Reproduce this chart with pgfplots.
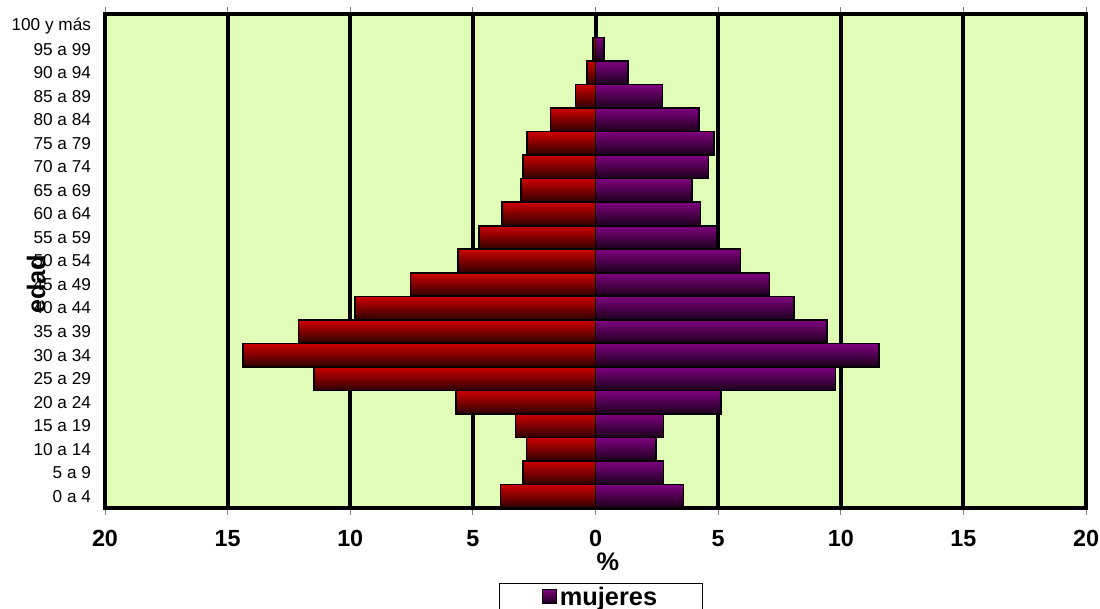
\documentclass[border=0pt]{standalone}
\usepackage{fontspec}
\setmainfont{Liberation Sans}
\usepackage{pgfplots}
\pgfplotsset{compat=1.18}
\definecolor{bgg}{RGB}{225,252,183}
\definecolor{redtop}{RGB}{206,0,0}
\definecolor{redmid}{RGB}{185,0,0}
\definecolor{redbot}{RGB}{45,0,0}
\definecolor{purtop}{RGB}{128,0,128}
\definecolor{purmid}{RGB}{112,0,112}
\definecolor{purbot}{RGB}{25,0,25}
\pgfplotsset{
  mb/.style={xbar, bar width=17.6pt, bar shift=0pt, draw=black, line width=1.2pt,
    top color=redtop, middle color=redmid, bottom color=redbot, forget plot},
  wb/.style={xbar, bar width=17.6pt, bar shift=0pt, draw=black, line width=1.2pt,
    top color=purtop, middle color=purmid, bottom color=purbot, forget plot},
}
\begin{document}
\begin{tikzpicture}
\begin{axis}[
  name=ax,
  scale only axis,
  width=735.75pt, height=370.5pt,
  xmin=-20, xmax=20, ymin=-0.5, ymax=20.5,
  axis background/.style={fill=bgg},
  axis line style={line width=3pt, black},
  xtick={-20,-15,-10,-5,0,5,10,15,20},
  xticklabels={20,15,10,5,0,5,10,15,20},
  xtick align=outside,
  x tick style={gray, line width=0.6pt},
  major tick length=5pt,
  xmajorgrids,
  major grid style={line width=3pt, black},
  xticklabel style={font=\fontsize{17.5}{20}\selectfont\bfseries, yshift=-8.5pt},
  ytick={0,...,20},
  yticklabels={0 a 4,5 a 9,10 a 14,15 a 19,20 a 24,25 a 29,30 a 34,35 a 39,40 a 44,45 a 49,50 a 54,55 a 59,60 a 64,65 a 69,70 a 74,75 a 79,80 a 84,85 a 89,90 a 94,95 a 99,100 y más},
  y tick style={draw=none},
  yticklabel style={font=\fontsize{12.9}{15}\selectfont, xshift=-7pt},
  xlabel={\%},
  xlabel style={at={(axis description cs:0.5127,-0.109)}, anchor=center, font=\fontsize{19}{22}\selectfont\bfseries},
  ylabel={edad},
  ylabel style={at={(axis description cs:-0.0703,0.453)}, anchor=center, font=\fontsize{19}{22}\selectfont\bfseries},
  legend style={at={(axis description cs:0.5056,-0.1518)}, anchor=north, draw=black, line width=0.6pt,
    font=\fontsize{19}{22}\selectfont\bfseries, inner xsep=32pt, inner ysep=0.5pt},
  legend image code/.code={\draw[top color=purtop, bottom color=purbot, draw=black, line width=0.8pt] (5pt,-5pt) rectangle (15.5pt,5.5pt);},
]
% hombres (valores negativos)
\addplot[mb] coordinates {(-3.87,0)};
\addplot[mb] coordinates {(-2.95,1)};
\addplot[mb] coordinates {(-2.81,2)};
\addplot[mb] coordinates {(-3.26,3)};
\addplot[mb] coordinates {(-5.69,4)};
\addplot[mb] coordinates {(-11.47,5)};
\addplot[mb] coordinates {(-14.38,6)};
\addplot[mb] coordinates {(-12.11,7)};
\addplot[mb] coordinates {(-9.80,8)};
\addplot[mb] coordinates {(-7.54,9)};
\addplot[mb] coordinates {(-5.60,10)};
\addplot[mb] coordinates {(-4.74,11)};
\addplot[mb] coordinates {(-3.82,12)};
\addplot[mb] coordinates {(-3.03,13)};
\addplot[mb] coordinates {(-2.96,14)};
\addplot[mb] coordinates {(-2.79,15)};
\addplot[mb] coordinates {(-1.83,16)};
\addplot[mb] coordinates {(-0.81,17)};
\addplot[mb] coordinates {(-0.34,18)};
\addplot[mb] coordinates {(-0.10,19)};
% mujeres
\addplot[wb] coordinates {(3.58,0)};
\addplot[wb] coordinates {(2.78,1)};
\addplot[wb] coordinates {(2.47,2)};
\addplot[wb] coordinates {(2.78,3)};
\addplot[wb] coordinates {(5.12,4)};
\addplot[wb] coordinates {(9.79,5)};
\addplot[wb] coordinates {(11.55,6)};
\addplot[wb] coordinates {(9.43,7)};
\addplot[wb] coordinates {(8.09,8)};
\addplot[wb] coordinates {(7.10,9)};
\addplot[wb] coordinates {(5.91,10)};
\addplot[wb] coordinates {(4.93,11)};
\addplot[wb] coordinates {(4.28,12)};
\addplot[wb] coordinates {(3.94,13)};
\addplot[wb] coordinates {(4.61,14)};
\addplot[wb] coordinates {(4.83,15)};
\addplot[wb] coordinates {(4.22,16)};
\addplot[wb] coordinates {(2.73,17)};
\addplot[wb] coordinates {(1.33,18)};
\addplot[wb] coordinates {(0.35,19)};
\addlegendimage{wb}
\addlegendentry{mujeres}
\end{axis}
\pgfresetboundingbox
\path[use as bounding box] ([shift={(-78.75pt,-75.75pt)}]ax.south west) rectangle ([shift={(746.25pt,381pt)}]ax.south west);
\end{tikzpicture}
\end{document}
